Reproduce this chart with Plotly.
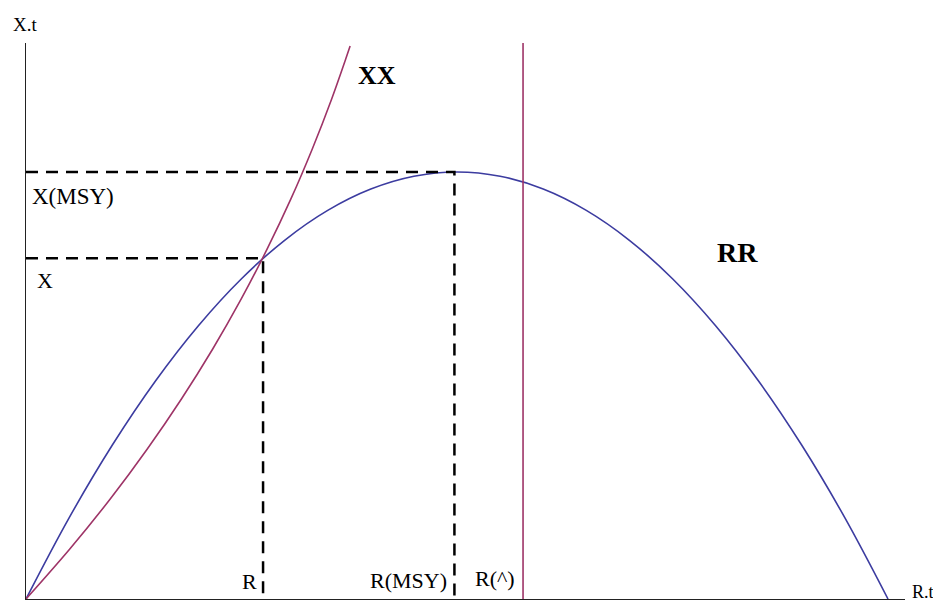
import plotly.graph_objects as go

# Blue curve RR
rr_R = [0, 0.5, 1, 1.5, 2, 2.5, 3, 3.5, 4, 4.5, 5, 5.5, 6, 6.5, 7, 7.5, 8, 8.5, 9, 9.5, 10]
rr_X = [0, 1.9, 3.6, 5.1, 6.4, 7.5, 8.4, 9.1, 9.6, 9.9, 10, 9.9, 9.6, 9.1, 8.4, 7.5, 6.4, 5.1, 3.6, 1.9, 0]

# Purple curve XX
xx_R = [0, 0.508, 0.977, 1.407, 1.803, 2.166, 2.497, 2.798, 3.073, 3.321, 3.546, 3.709, 3.76]
xx_X = [0, 1.171, 2.342, 3.513, 4.684, 5.855, 7.026, 8.197, 9.368, 10.539, 11.71, 12.646, 12.95]

# Key levels
R_hat = 5.766
R_msy = 4.97
X_msy = 10.0
R_eq = 2.75
X_eq = 7.98

x_max = 10.197
y_max = 13.02

blue = "#3c3ca0"
purple = "#9e3467"
dash_style = dict(color="black", width=2.5, dash="12px,8px")

fig = go.Figure()
fig.add_trace(go.Scatter(x=rr_R, y=rr_X, mode="lines", line=dict(color=blue, width=1.6, shape="spline"), hoverinfo="skip"))
fig.add_trace(go.Scatter(x=xx_R, y=xx_X, mode="lines", line=dict(color=purple, width=1.6, shape="spline"), hoverinfo="skip"))
fig.add_trace(go.Scatter(x=[R_hat, R_hat], y=[0, y_max], mode="lines", line=dict(color=purple, width=1.6), hoverinfo="skip"))
fig.add_trace(go.Scatter(x=[0, R_msy, R_msy], y=[X_msy, X_msy, 0], mode="lines", line=dash_style, hoverinfo="skip"))
fig.add_trace(go.Scatter(x=[0, R_eq, R_eq], y=[X_eq, X_eq, 0], mode="lines", line=dash_style, hoverinfo="skip"))

serif = "Liberation Serif"
def lab(text, x, y, size=22, family=serif, weight="normal", xanchor="center", xref="x", yref="y"):
    fig.add_annotation(text=text, x=x, y=y, xref=xref, yref=yref, showarrow=False,
                       xanchor=xanchor, yanchor="middle",
                       font=dict(family=family, size=size, color="black", weight=weight))

lab("X(MSY)", 0.046, 9.415, size=23, xanchor="left")
lab("X", 0.215, 7.47)
lab("R", 2.593, 0.42)
lab("R(MSY)", 4.437, 0.43)
lab("R(^)", 5.441, 0.48)
lab("XX", 4.072, 12.27, size=26, weight="bold")
lab("RR", 8.254, 8.103, size=28, weight="bold")
lab("X.t", -0.001, 1.034, size=19, xref="paper", yref="paper")
lab("R.t", 1.0205, 0.012, size=18, xref="paper", yref="paper")

fig.update_layout(
    width=933, height=596,
    margin=dict(l=18, r=36, t=35, b=5),
    paper_bgcolor="white", plot_bgcolor="white",
    showlegend=False,
    xaxis=dict(range=[0, x_max], showgrid=False, zeroline=False, showticklabels=False,
               ticks="", showline=True, linecolor="#222222", linewidth=1.2),
    yaxis=dict(range=[0, y_max], showgrid=False, zeroline=False, showticklabels=False,
               ticks="", showline=True, linecolor="#222222", linewidth=1.2),
)
fig.write_html("out.html")
